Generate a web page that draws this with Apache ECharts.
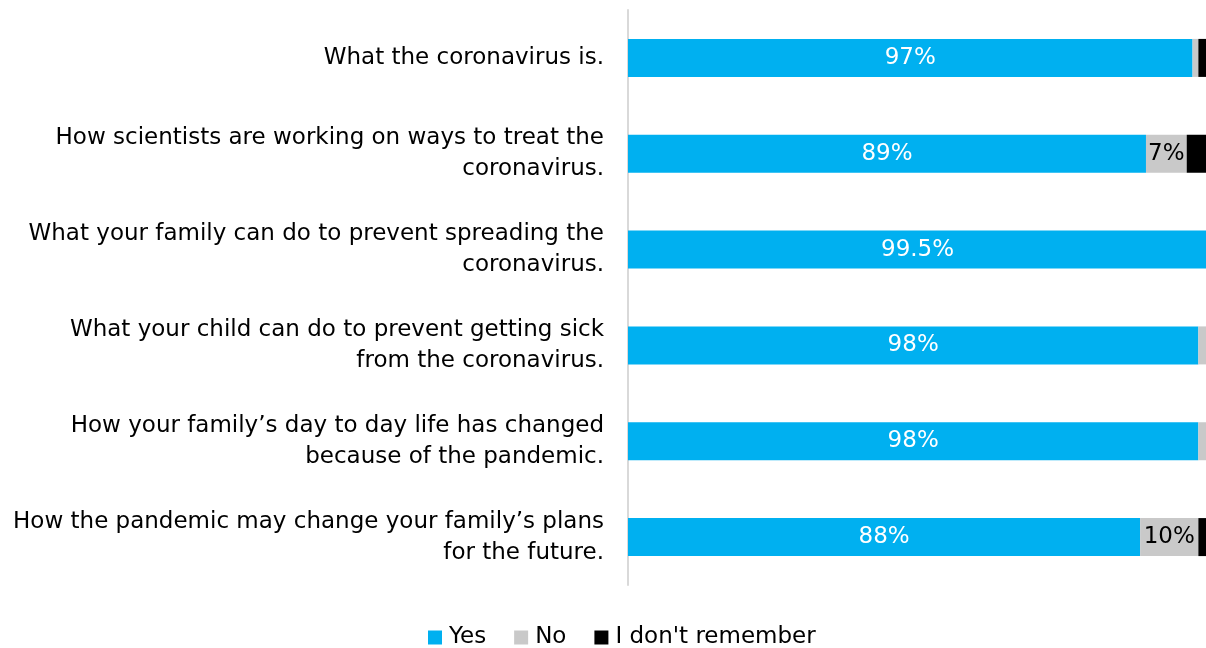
<!DOCTYPE html>
<html>
<head>
<meta charset="utf-8">
<script src="https://cdn.jsdelivr.net/npm/echarts@6/dist/echarts.min.js"></script>
<style>
  html, body { margin: 0; padding: 0; background: #fff; overflow: hidden; }
  /* the original plot runs a few pixels past the right edge of the picture */
  #chart { width: 1210px; height: 648px; }
</style>
</head>
<body>
<div id="chart"></div>
<script>
// topics, top to bottom
const categories = [
  'What the coronavirus is.',
  'How scientists are working on ways to treat the\ncoronavirus.',
  'What your family can do to prevent spreading the\ncoronavirus.',
  'What your child can do to prevent getting sick\nfrom the coronavirus.',
  'How your family\u2019s day to day life has changed\nbecause of the pandemic.',
  'How the pandemic may change your family\u2019s plans\nfor the future.'
];
const yesValues = [97, 89, 99.5, 98, 98, 88];
const noValues = [1, 7, 0.5, 1.4, 1.7, 10];
const dontRememberValues = [1.7, 4, 0, 1, 0, 2];

const chart = echarts.init(document.getElementById('chart'));
const font = 'DejaVu Sans';

// only label the segments that are wide enough
function pct(p) {
  return p.value >= 5 ? p.value + '%' : '';
}

const option = {
  textStyle: { fontFamily: font },
  animation: false,
  grid: { left: 628, right: 0, top: 10, bottom: 63 },
  legend: {
    bottom: -6,
    left: 423,
    itemWidth: 14,
    itemHeight: 14,
    itemGap: 28,
    icon: 'rect',
    textStyle: { fontSize: 23, color: '#000', fontFamily: font, padding: [0, 0, 0, 2] },
    data: ['Yes', 'No', "I don't remember"]
  },
  xAxis: {
    type: 'value',
    min: 0,
    max: 100,
    show: false
  },
  yAxis: {
    type: 'category',
    inverse: true,
    data: categories,
    axisLine: { show: true, lineStyle: { color: '#d9d9d9', width: 2 } },
    axisTick: { show: false },
    axisLabel: {
      margin: 24,
      fontSize: 23,
      lineHeight: 31,
      color: '#000',
      align: 'right'
    }
  },
  series: [
    {
      name: 'Yes',
      type: 'bar',
      stack: 'total',
      barWidth: 38,
      data: yesValues,
      itemStyle: { color: '#00b0f0' },
      label: { show: true, position: 'inside', color: '#fff', fontSize: 23, formatter: pct }
    },
    {
      name: 'No',
      type: 'bar',
      stack: 'total',
      data: noValues,
      itemStyle: { color: '#c9c9c9' },
      label: { show: true, position: 'inside', color: '#000', fontSize: 23, formatter: pct }
    },
    {
      name: "I don't remember",
      type: 'bar',
      stack: 'total',
      data: dontRememberValues,
      itemStyle: { color: '#000' },
      label: { show: false }
    }
  ]
};

chart.setOption(option);
window.addEventListener('resize', () => { chart.resize(); });
</script>
</body>
</html>
